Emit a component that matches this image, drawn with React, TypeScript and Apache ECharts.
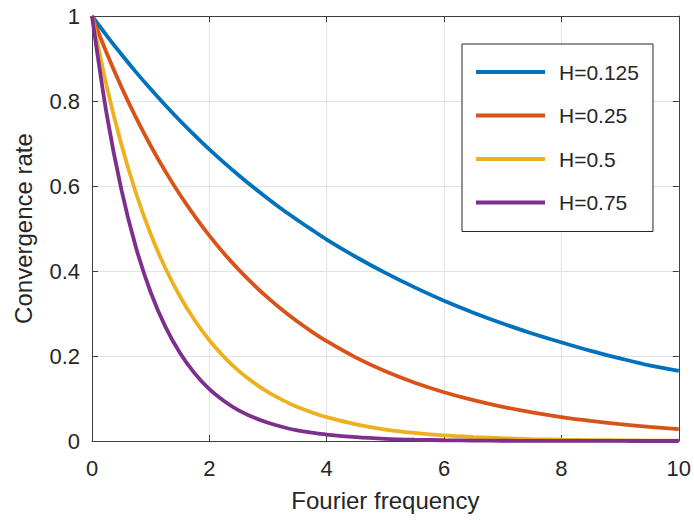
import React, { useEffect, useRef } from "react";
import * as echarts from "echarts";

const xValues = [0, 0.25, 0.5, 0.75, 1, 1.25, 1.5, 1.75, 2, 2.25, 2.5, 2.75, 3, 3.25, 3.5, 3.75, 4, 4.5, 5, 5.5, 6, 6.5, 7, 7.5, 8, 8.5, 9, 9.5, 10];
const seriesNames = ["H=0.125", "H=0.25", "H=0.5", "H=0.75"];
const blueValues = [1, 0.954, 0.91, 0.868, 0.828, 0.79, 0.7535, 0.719, 0.686, 0.655, 0.6254, 0.597, 0.57, 0.544, 0.52, 0.4967, 0.474, 0.433, 0.3956, 0.3614, 0.33, 0.302, 0.2764, 0.253, 0.232, 0.212, 0.1945, 0.178, 0.165];
const orangeValues = [1, 0.9128, 0.8333, 0.7608, 0.6947, 0.6344, 0.5793, 0.5291, 0.4833, 0.4414, 0.4033, 0.3685, 0.3367, 0.3076, 0.2811, 0.2569, 0.2349, 0.1963, 0.1641, 0.1372, 0.1148, 0.0961, 0.0804, 0.0673, 0.0564, 0.0473, 0.0396, 0.0332, 0.0279];
const yellowValues = [1, 0.835, 0.698, 0.583, 0.487, 0.407, 0.34, 0.284, 0.237, 0.198, 0.165, 0.138, 0.115, 0.0963, 0.08, 0.0672, 0.056, 0.039, 0.027, 0.019, 0.013, 0.0093, 0.0065, 0.0045, 0.0032, 0.0022, 0.0015, 0.0011, 0.0007];
const purpleValues = [1, 0.769, 0.592, 0.455, 0.35, 0.269, 0.207, 0.159, 0.122, 0.0942, 0.072, 0.0557, 0.043, 0.033, 0.025, 0.0195, 0.015, 0.0089, 0.0052, 0.0031, 0.0018, 0.0011, 0.0006, 0.0004, 0.0002, 0.0001, 0.0001, 0, 0];
const colors = ["#0072BD", "#D95319", "#EDB120", "#7E2F8E"];
const xLabel = "Fourier frequency";
const yLabel = "Convergence rate";

const FONT = "'Liberation Sans', Arial, Helvetica, sans-serif";
const TXT = "#262626";

export default function App() {
  const ref = useRef<HTMLDivElement>(null);
  useEffect(() => {
    if (!ref.current) return;
    const chart = echarts.init(ref.current, null, { renderer: "svg" });
    const all = [blueValues, orangeValues, yellowValues, purpleValues];
    const axisCommon = {
      axisLine: { show: true, onZero: false, lineStyle: { color: "#404040", width: 1 } },
      axisTick: { show: true, inside: true, length: 6, lineStyle: { color: "#404040" } },
    };
    chart.setOption({
      animation: false,
      backgroundColor: "#ffffff",
      textStyle: { fontFamily: FONT },
      grid: { left: 92, right: 15, top: 16, bottom: 79, containLabel: false },
      legend: {
        orient: "vertical",
        left: 462,
        top: 44,
        data: seriesNames,
        icon: "rect",
        itemWidth: 69,
        itemHeight: 4,
        itemGap: 19.5,
        padding: [16, 14, 17, 14],
        borderColor: "#262626",
        borderWidth: 1,
        backgroundColor: "#ffffff",
        textStyle: { fontFamily: FONT, fontSize: 21, color: TXT, lineHeight: 24, padding: [0, 0, 0, 9] },
      },
      xAxis: [
        {
          type: "value",
          min: 0,
          max: 10,
          interval: 2,
          position: "bottom",
          ...axisCommon,
          axisLabel: { fontFamily: FONT, fontSize: 22, color: TXT, margin: 16 },
          splitLine: { show: true, lineStyle: { color: "#e3e3e3", width: 1 } },
          name: xLabel,
          nameLocation: "middle",
          nameGap: 47,
          nameTextStyle: { fontFamily: FONT, fontSize: 24, color: TXT },
        },
        {
          type: "value",
          min: 0,
          max: 10,
          interval: 2,
          position: "top",
          ...axisCommon,
          axisLabel: { show: false },
          splitLine: { show: false },
        },
      ],
      yAxis: [
        {
          type: "value",
          min: 0,
          max: 1,
          interval: 0.2,
          position: "left",
          ...axisCommon,
          axisLabel: { fontFamily: FONT, fontSize: 22, color: TXT, margin: 12 },
          splitLine: { show: true, lineStyle: { color: "#e3e3e3", width: 1 } },
          name: yLabel,
          nameLocation: "middle",
          nameGap: 57,
          nameTextStyle: { fontFamily: FONT, fontSize: 24, color: TXT },
        },
        {
          type: "value",
          min: 0,
          max: 1,
          interval: 0.2,
          position: "right",
          ...axisCommon,
          axisLabel: { show: false },
          splitLine: { show: false },
        },
      ],
      series: all.map((vals, i) => ({
        name: seriesNames[i],
        type: "line",
        xAxisIndex: 0,
        yAxisIndex: 0,
        data: xValues.map((x, j) => [x, vals[j]]),
        smooth: 0.3,
        showSymbol: false,
        symbol: "none",
        clip: false,
        lineStyle: { color: colors[i], width: 3.8 },
        itemStyle: { color: colors[i] },
        z: 2 + i,
      })),
    });
    return () => chart.dispose();
  }, []);
  return <div ref={ref} style={{ position: "fixed", left: 0, top: 0, width: 694, height: 520 }} />;
}
